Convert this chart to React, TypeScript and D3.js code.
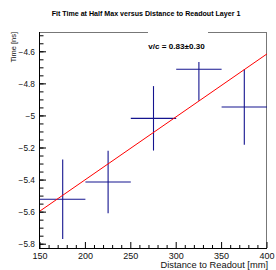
import React from "react";
import * as d3 from "d3";

const xVals = [175, 225, 275, 325, 375];
const xErr = [25, 25, 25, 25, 25];
const yVals = [-5.52, -5.412, -5.015, -4.709, -4.944];
const yErr = [0.248, 0.195, 0.201, 0.196, 0.235];
const fitX = [150, 400];
const fitY = [-5.593, -4.613];
const xTicks = [150, 200, 250, 300, 350, 400];
const yTicks = [-5.8, -5.6, -5.4, -5.2, -5, -4.8, -4.6];
const title = "Fit Time at Half Max versus Distance to Readout Layer 1";
const xTitle = "Distance to Readout [mm]";
const yTitle = "Time [ns]";
const fitLabel = "v/c = 0.83\u00b10.30";

export default function App() {
  const W = 276, H = 270;
  const L = 40, R = 267, T = 32, B = 248;
  const x = d3.scaleLinear().domain([150, 400]).range([L, R]);
  const y = d3.scaleLinear().domain([-5.8237, -4.4765]).range([B, T]);
  const font = "'Liberation Sans', Arial, Helvetica, sans-serif";
  const fmt = (v: number) => (v < 0 ? "\u2212" : "") + d3.format("")(Math.abs(v));

  const xMinor = d3.range(150, 401, 10).filter((v) => v % 50 !== 0);
  const yMinor = d3.range(-5.8, -4.47, 0.05).filter((v) => v >= -5.8237 && v <= -4.4765);
  const blue = "#14148f";

  const line = d3.line<number>().x((_, i) => x(fitX[i])).y((d) => y(d));

  return (
    <svg width={W} height={H} style={{ position: "absolute", left: 0, top: 0, background: "#fff" }} fontFamily={font}>
      <rect x={0} y={0} width={W} height={H} fill="#fff" />
      <text x={146} y={16} textAnchor="middle" fontWeight="bold" fontSize={7.1} fill="#000">{title}</text>
      {/* frame */}
      <line x1={L} x2={R} y1={T + 0.5} y2={T + 0.5} stroke="#777" strokeWidth={1} />
      <line x1={R - 0.5} x2={R - 0.5} y1={T} y2={B} stroke="#777" strokeWidth={1} />
      {/* error bars */}
      {xVals.map((xv, i) => (
        <g key={i} stroke={blue} strokeWidth={1.1}>
          <line x1={x(xv - xErr[i])} x2={x(xv + xErr[i])} y1={y(yVals[i])} y2={y(yVals[i])} />
          <line x1={x(xv)} x2={x(xv)} y1={y(yVals[i] - yErr[i])} y2={y(yVals[i] + yErr[i])} />
        </g>
      ))}
      {/* fit */}
      <path d={line(fitY) || ""} stroke="#ff0000" strokeWidth={1} fill="none" />
      {/* axes */}
      <line x1={L} x2={R} y1={B + 0.5} y2={B + 0.5} stroke="#000" strokeWidth={1} />
      <line x1={L - 0.5} x2={L - 0.5} y1={T} y2={B + 1} stroke="#000" strokeWidth={1} />
      {xTicks.map((t) => (
        <g key={"xt" + t}>
          <line x1={x(t)} x2={x(t)} y1={B} y2={B - 6} stroke="#000" />
          <text x={x(t)} y={258.5} textAnchor="middle" fontSize={9} fill="#111">{t}</text>
        </g>
      ))}
      {xMinor.map((t) => (
        <line key={"xm" + t} x1={x(t)} x2={x(t)} y1={B} y2={B - 3} stroke="#000" />
      ))}
      {yTicks.map((t) => (
        <g key={"yt" + t}>
          <line x1={L} x2={L + 6} y1={y(t)} y2={y(t)} stroke="#000" />
          <text x={35} y={y(t) + 3} textAnchor="end" fontSize={8.3} fill="#111">{fmt(t)}</text>
        </g>
      ))}
      {yMinor.map((t, i) => (
        <line key={"ym" + i} x1={L} x2={L + 3.5} y1={y(t)} y2={y(t)} stroke="#000" />
      ))}
      <text x={268} y={268} textAnchor="end" fontSize={9.3} fill="#111">{xTitle}</text>
      <text transform={`translate(16,32) rotate(-90)`} textAnchor="end" fontSize={7.5} fill="#111">{yTitle}</text>
      {/* fit label box */}
      <rect x={148} y={30} width={60} height={32} fill="#fff" />
      <text x={148.3} y={48.7} fontWeight="bold" fontSize={7.5} textLength={56.5} lengthAdjust="spacingAndGlyphs" fill="#000">{fitLabel}</text>
    </svg>
  );
}
